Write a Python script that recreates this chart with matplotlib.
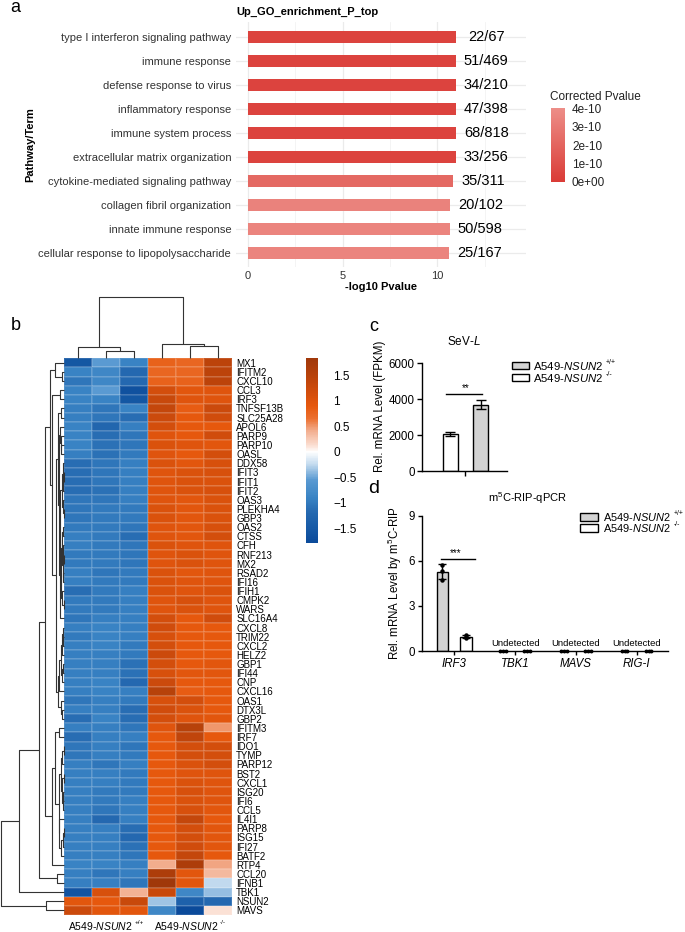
import numpy as np
import matplotlib
matplotlib.use('Agg')
import matplotlib.pyplot as plt
from matplotlib.colors import LinearSegmentedColormap, Normalize
from matplotlib.patches import Rectangle
from matplotlib.cm import ScalarMappable
from matplotlib.ticker import FuncFormatter

plt.rcParams['font.family'] = ['Liberation Sans', 'DejaVu Sans']
plt.rcParams['mathtext.fontset'] = 'custom'
plt.rcParams['mathtext.rm'] = 'Liberation Sans'
plt.rcParams['mathtext.it'] = 'Liberation Sans:italic'
plt.rcParams['mathtext.bf'] = 'Liberation Sans:bold'

# ---------------- data: panel a ----------------
go_terms = ['type I interferon signaling pathway', 'immune response', 'defense response to virus',
            'inflammatory response', 'immune system process', 'extracellular matrix organization',
            'cytokine-mediated signaling pathway', 'collagen fibril organization',
            'innate immune response', 'cellular response to lipopolysaccharide']
go_log10p = [10.99, 10.99, 10.99, 10.99, 10.99, 10.99, 10.81, 10.69, 10.65, 10.62]
go_padj = [0.4e-10, 0.4e-10, 0.4e-10, 0.4e-10, 0.4e-10, 0.4e-10, 2.2e-10, 3.4e-10, 3.5e-10, 3.5e-10]
go_counts = ['22/67', '51/469', '34/210', '47/398', '68/818', '33/256', '35/311', '20/102', '50/598', '25/167']
go_cbar_ticks = [0, 1e-10, 2e-10, 3e-10, 4e-10]
go_cbar_labels = ['0e+00', '1e-10', '2e-10', '3e-10', '4e-10']

# ---------------- data: panel b ----------------
heat_genes = ['MX1', 'IFITM2', 'CXCL10', 'CCL3', 'IRF3', 'TNFSF13B', 'SLC25A28', 'APOL6', 'PARP9', 'PARP10',
              'OASL', 'DDX58', 'IFIT3', 'IFIT1', 'IFIT2', 'OAS3', 'PLEKHA4', 'GBP3', 'OAS2', 'CTSS', 'CFH',
              'RNF213', 'MX2', 'RSAD2', 'IFI16', 'IFIH1', 'CMPK2', 'WARS', 'SLC16A4', 'CXCL8', 'TRIM22',
              'CXCL2', 'HELZ2', 'GBP1', 'IFI44', 'CNP', 'CXCL16', 'OAS1', 'DTX3L', 'GBP2', 'IFITM3', 'IRF7',
              'IDO1', 'TYMP', 'PARP12', 'BST2', 'CXCL1', 'ISG20', 'IFI6', 'CCL5', 'IL4I1', 'PARP8', 'ISG15',
              'IFI27', 'BATF2', 'RTP4', 'CCL20', 'IFNB1', 'TBK1', 'NSUN2', 'MAVS']
heat_values = [
    [-1.55, -0.55, -0.9, 0.8, 0.75, 1.45],
    [-0.9, -0.85, -1.2, 0.75, 0.75, 1.45],
    [-1.05, -0.85, -1.2, 0.8, 0.8, 1.45],
    [-0.9, -0.55, -1.65, 1.15, 0.95, 1.0],
    [-0.9, -0.9, -1.55, 1.3, 1.0, 1.0],
    [-0.95, -1.05, -0.9, 1.35, 0.85, 1.25],
    [-0.95, -1.05, -1.15, 1.25, 0.9, 1.2],
    [-0.9, -1.25, -0.95, 1.15, 0.9, 0.9],
    [-0.9, -1.15, -1.05, 1.0, 0.9, 1.2],
    [-0.9, -1.1, -1.05, 1.05, 1.0, 0.95],
    [-0.95, -1.1, -1.0, 1.0, 0.9, 1.15],
    [-1.15, -1.05, -0.95, 1.05, 0.95, 1.1],
    [-1.15, -1.05, -0.95, 1.0, 1.05, 1.1],
    [-1.15, -1.05, -0.95, 1.0, 1.05, 1.05],
    [-1.15, -1.1, -0.95, 1.0, 1.05, 1.1],
    [-1.05, -1.05, -0.95, 1.0, 0.95, 1.05],
    [-1.05, -1.0, -1.0, 1.05, 0.95, 1.05],
    [-1.05, -1.0, -1.0, 1.05, 0.95, 1.05],
    [-1.0, -1.0, -1.05, 1.0, 0.95, 1.1],
    [-0.95, -1.0, -1.15, 1.0, 0.95, 1.15],
    [-0.95, -1.0, -1.05, 1.05, 1.0, 1.0],
    [-1.0, -1.0, -1.05, 1.0, 1.05, 1.0],
    [-1.0, -1.0, -1.05, 1.0, 1.05, 1.0],
    [-0.95, -1.05, -1.0, 1.05, 0.95, 1.0],
    [-0.95, -1.0, -1.0, 1.05, 1.0, 1.0],
    [-1.15, -1.0, -0.95, 1.05, 1.0, 1.05],
    [-1.0, -1.0, -0.95, 1.0, 1.1, 1.0],
    [-1.0, -1.0, -0.95, 1.0, 1.05, 1.0],
    [-1.05, -0.95, -0.95, 1.15, 0.9, 1.2],
    [-0.95, -0.9, -0.95, 1.2, 0.9, 0.9],
    [-1.0, -0.9, -0.95, 1.1, 0.9, 0.9],
    [-0.95, -0.9, -1.0, 1.15, 0.9, 0.9],
    [-0.95, -0.95, -1.0, 1.25, 0.9, 0.9],
    [-0.95, -0.95, -1.1, 1.15, 0.9, 0.95],
    [-0.95, -0.95, -1.1, 1.1, 0.95, 0.95],
    [-0.95, -0.9, -1.2, 1.25, 0.9, 0.9],
    [-0.95, -0.9, -0.95, 1.5, 0.85, 0.9],
    [-1.05, -0.95, -1.0, 1.1, 1.15, 0.9],
    [-0.95, -0.95, -1.15, 1.2, 1.05, 0.9],
    [-1.15, -0.9, -1.15, 1.15, 1.0, 0.95],
    [-0.95, -0.95, -1.05, 1.0, 1.5, 0.5],
    [-1.15, -0.95, -0.95, 0.9, 1.4, 0.9],
    [-1.05, -0.95, -1.05, 0.9, 1.15, 1.15],
    [-1.05, -0.95, -1.0, 0.9, 1.15, 1.15],
    [-0.95, -1.05, -0.95, 0.9, 1.05, 1.15],
    [-0.95, -0.95, -1.0, 0.9, 1.0, 1.0],
    [-0.95, -0.95, -1.0, 0.9, 1.05, 1.0],
    [-0.95, -1.0, -1.0, 0.9, 1.1, 1.0],
    [-0.95, -1.0, -0.95, 0.9, 1.05, 1.0],
    [-0.95, -1.05, -0.95, 0.9, 1.1, 0.95],
    [-0.95, -1.2, -0.95, 0.9, 1.35, 0.9],
    [-0.95, -0.95, -1.15, 0.9, 1.15, 0.95],
    [-0.95, -0.95, -1.2, 0.9, 1.15, 0.95],
    [-0.95, -0.95, -1.1, 0.9, 1.2, 0.95],
    [-0.95, -0.95, -1.05, 0.9, 1.35, 0.9],
    [-0.9, -0.9, -0.95, 0.42, 1.65, 0.45],
    [-0.95, -1.05, -0.95, 1.65, 0.95, 0.35],
    [-0.95, -0.95, -1.05, 1.84, 0.95, -0.25],
    [-1.6, 1.1, 0.38, 1.3, -0.85, -0.38],
    [0.95, 0.9, 1.3, -0.35, -1.35, -1.2],
    [1.25, 0.95, 0.95, -0.85, -1.79, 0.12],
]
heat_cbar_ticks = [-1.5, -1.0, -0.5, 0.0, 0.5, 1.0, 1.5]
heat_nodes = [-1.79, -1.5, -1.2, -0.9, -0.55, -0.25, 0.0, 0.12, 0.42, 0.65, 0.9, 1.2, 1.5, 1.84]
heat_colors = ['#0B4A9A', '#175AA6', '#2468B0', '#3A84C4', '#5A9AD2', '#C2DAEE', '#FFFFFF',
               '#FBE0D4', '#F2AC8C', '#EC7030', '#E6580D', '#D04C0C', '#B8420A', '#A0380A']

# ---------------- data: panel c ----------------
sev_groups = ['-/-', '+/+']
sev_mean = [2060, 3700]
sev_sd = [110, 250]

# ---------------- data: panel d ----------------
rip_genes = ['IRF3', 'TBK1', 'MAVS', 'RIG-I']
rip_wt_points = [[5.75, 5.3, 4.75], [0, 0, 0], [0, 0, 0], [0, 0, 0]]
rip_ko_points = [[1.05, 0.92, 0.85], [0, 0, 0], [0, 0, 0], [0, 0, 0]]

# ---------------- figure helpers ----------------
W, H = 685, 932
fig = plt.figure(figsize=(W / 100, H / 100), dpi=100)
fig.patch.set_facecolor('white')
renderer = fig.canvas.get_renderer()


def add_ax(x0, y0, x1, y1):
    return fig.add_axes([x0 / W, 1 - y1 / H, (x1 - x0) / W, (y1 - y0) / H])


def fx(x):
    return x / W


def fy(y):
    return 1 - y / H


def ftext(x, y, s, **kw):
    kw.setdefault('ha', 'center')
    kw.setdefault('va', 'center')
    return fig.text(fx(x), fy(y), s, **kw)


def frect(x0, y0, x1, y1, fc):
    fig.patches.append(Rectangle((fx(x0), fy(y1)), (x1 - x0) / W, (y1 - y0) / H,
                                 transform=fig.transFigure, facecolor=fc,
                                 edgecolor='black', linewidth=1.0))


def sup_label(x, y, base, sup, fs, align='left', gap=1.5):
    t1 = ftext(x, y, base, ha='left', fontsize=fs)
    w1 = t1.get_window_extent(renderer).width
    t2 = ftext(x + w1 + gap, y - fs * 0.42, sup, ha='left', fontsize=fs * 0.62)
    w2 = t2.get_window_extent(renderer).width
    if align == 'center':
        shift = (w1 + gap + w2) / 2
        t1.set_x(fx(x - shift))
        t2.set_x(fx(x - shift + w1 + gap))


# ================= panel a =================
cmap_a = LinearSegmentedColormap.from_list('go', ['#DA3B36', '#ED8E88'])
norm_a = Normalize(0, 4e-10)
axa = add_ax(236, 22.3, 526.4, 267.1)
ya = np.arange(len(go_terms))
axa.barh(ya, go_log10p, height=0.5, color=cmap_a(norm_a(np.array(go_padj))), zorder=3)
for yi, v, c in zip(ya, go_log10p, go_counts):
    axa.text(v + 1.6, yi, c, ha='center', va='center', fontsize=10.5, color='black', zorder=4)
axa.set_xlim(-0.64, 14.71)
axa.set_ylim(len(go_terms) - 0.4, -0.6)
axa.set_xticks([0, 5, 10])
axa.set_xticks([2.5, 7.5, 12.5], minor=True)
axa.set_yticks(ya)
axa.set_yticklabels(go_terms)
axa.grid(which='major', color='#EBEBEB', linewidth=0.9, zorder=0)
axa.grid(which='minor', axis='x', color='#F3F3F3', linewidth=0.6, zorder=0)
axa.set_axisbelow(True)
for s in axa.spines.values():
    s.set_visible(False)
axa.tick_params(which='both', length=0)
axa.tick_params(axis='y', pad=3.5, labelsize=8, labelcolor='#333333')
axa.tick_params(axis='x', pad=3, labelsize=8, labelcolor='#333333')
ftext(307, 11.7, 'Up_GO_enrichment_P_top', fontsize=8, weight='bold')
ftext(30.6, 145, 'Pathway/Term', rotation=90, fontsize=8, weight='bold')
ftext(381, 286.7, '-log10 Pvalue', fontsize=8, weight='bold')
ftext(15, 7, 'a', fontsize=13)

caxa = add_ax(550.5, 108, 565, 182)
cba = fig.colorbar(ScalarMappable(norm=norm_a, cmap=cmap_a), cax=caxa)
cba.outline.set_visible(False)
cba.set_ticks(go_cbar_ticks)
cba.set_ticklabels(go_cbar_labels)
caxa.tick_params(length=0, pad=5, labelsize=8.5, labelcolor='#222222')
ftext(550, 97, 'Corrected Pvalue', ha='left', fontsize=8.5, color='#222222')


# ================= panel b =================
def constrained_tree(X):
    X = np.asarray(X)
    n = len(X)
    D = np.sqrt(((X[:, None, :] - X[None, :, :]) ** 2).sum(-1))
    clusters = [dict(m=[i], pos=i + 0.5, h=0.0) for i in range(n)]
    segs = []
    while len(clusters) > 1:
        ds = [D[np.ix_(clusters[k]['m'], clusters[k + 1]['m'])].max() for k in range(len(clusters) - 1)]
        k = int(np.argmin(ds))
        a, b = clusters[k], clusters[k + 1]
        h = max(ds[k], a['h'], b['h'])
        segs.append(([a['h'], h, h, b['h']], [a['pos'], a['pos'], b['pos'], b['pos']]))
        clusters[k:k + 2] = [dict(m=a['m'] + b['m'], pos=(a['pos'] + b['pos']) / 2, h=h)]
    return segs, clusters[0]['h']


hv = np.array(heat_values)
vmin, vmax = hv.min(), hv.max()
cmap_b = LinearSegmentedColormap.from_list(
    'hb', [((v - vmin) / (vmax - vmin), c) for v, c in zip(heat_nodes, heat_colors)])
norm_b = Normalize(vmin, vmax)

axh = add_ax(64.3, 358.3, 232, 915)
axh.pcolormesh(np.arange(hv.shape[1] + 1), np.arange(hv.shape[0] + 1), hv, cmap=cmap_b, norm=norm_b,
               edgecolors=(1, 1, 1, 0.12), linewidth=0.3)
axh.set_xlim(0, hv.shape[1])
axh.set_ylim(hv.shape[0], 0)
axh.set_xticks([])
axh.yaxis.tick_right()
axh.set_yticks(np.arange(hv.shape[0]) + 0.5)
axh.set_yticklabels(heat_genes)
axh.tick_params(axis='y', length=0, pad=3, labelsize=7)
for s in axh.spines.values():
    s.set_visible(False)

# row dendrogram
row_segs, row_root = constrained_tree(hv)
axr = add_ax(0.5, 358.3, 64.3, 915)
for hs, ps in row_segs:
    axr.plot(hs, ps, color='#333333', linewidth=0.8, clip_on=False, solid_capstyle='butt')
axr.set_xlim(row_root, 0)
axr.set_ylim(hv.shape[0], 0)
axr.axis('off')

# column dendrogram
col_segs, col_root = constrained_tree(hv.T)
axcd = add_ax(64.3, 297, 232, 358.3)
for hs, ps in col_segs:
    axcd.plot(ps, hs, color='#333333', linewidth=0.8, clip_on=False, solid_capstyle='butt')
axcd.set_ylim(0, col_root)
axcd.set_xlim(0, hv.shape[1])
axcd.axis('off')

# heatmap colorbar
caxb = add_ax(306, 358, 318, 543)
cbb = fig.colorbar(ScalarMappable(norm=norm_b, cmap=cmap_b), cax=caxb)
cbb.outline.set_visible(False)
cbb.set_ticks(heat_cbar_ticks)
cbb.ax.yaxis.set_major_formatter(FuncFormatter(lambda v, p: ('%g' % v).replace('-', '\u2212')))
caxb.tick_params(length=0, pad=11, labelsize=8.5)

sup_label(106, 926, r'A549-$\mathit{NSUN2}$', '+/+', 7.5, align='center')
sup_label(190, 926, r'A549-$\mathit{NSUN2}$', '-/-', 7.5, align='center')
ftext(16, 325, 'b', fontsize=13)

# ================= panel c =================
axc = add_ax(422.3, 363.3, 507.3, 471)
xc = np.arange(len(sev_groups))
axc.bar(xc, sev_mean, width=0.5, color=['white', '#D3D3D3'], edgecolor='black', linewidth=1.0, zorder=2)
axc.errorbar(xc, sev_mean, yerr=sev_sd, fmt='none', ecolor='black', elinewidth=1.0,
             capsize=3.5, capthick=1.0, zorder=3)
axc.set_xlim(-0.92, 1.88)
axc.set_ylim(0, 6000)
axc.set_yticks([0, 2000, 4000, 6000])
axc.set_xticks([xc.mean()])
axc.set_xticklabels([''])
for s in ['top', 'right']:
    axc.spines[s].set_visible(False)
for s in ['left', 'bottom']:
    axc.spines[s].set_linewidth(1.0)
axc.tick_params(length=3.5, width=1.0, labelsize=8.3, pad=2)
sig_c = max(m + s for m, s in zip(sev_mean, sev_sd)) + 330
axc.plot([xc[0] - 0.14, xc[1] + 0.04], [sig_c, sig_c], color='black', linewidth=1.0)
axc.text(xc.mean(), sig_c + 60, '**', ha='center', va='bottom', fontsize=7)
ftext(464, 341.7, r'SeV-$\mathit{L}$', fontsize=8.5)
ftext(380, 406, 'Rel. mRNA Level (FPKM)', rotation=90, fontsize=8.3)
ftext(374, 326.7, 'c', fontsize=13)
frect(511.7, 362.3, 529.3, 369, '#D3D3D3')
frect(511.7, 374, 529.3, 381, 'white')
sup_label(533.3, 365.9, r'A549-$\mathit{NSUN2}$', '+/+', 8.2, gap=2.5)
sup_label(533.3, 377.6, r'A549-$\mathit{NSUN2}$', '-/-', 8.2, gap=2.5)

# ================= panel d =================
axd = add_ax(422.3, 515.7, 667.7, 651)
xd = np.arange(len(rip_genes))
wt_mean = np.array([np.mean(p) for p in rip_wt_points])
ko_mean = np.array([np.mean(p) for p in rip_ko_points])
wt_sd = np.array([np.std(p, ddof=1) for p in rip_wt_points])
ko_sd = np.array([np.std(p, ddof=1) for p in rip_ko_points])
off, bw = 0.197, 0.19
det = wt_mean + ko_mean > 0
axd.bar(xd[det] - off, wt_mean[det], width=bw, color='#D3D3D3', edgecolor='black', linewidth=1.0, zorder=2)
axd.bar(xd[det] + off, ko_mean[det], width=bw, color='white', edgecolor='black', linewidth=1.0, zorder=2)
axd.errorbar(xd[det] - off, wt_mean[det], yerr=wt_sd[det], fmt='none', ecolor='black',
             elinewidth=1.0, capsize=3, capthick=1.0, zorder=3)
axd.errorbar(xd[det] + off, ko_mean[det], yerr=ko_sd[det], fmt='none', ecolor='black',
             elinewidth=1.0, capsize=3, capthick=1.0, zorder=3)
jit = np.array([-0.045, 0.0, 0.045])
for i in range(len(rip_genes)):
    if det[i]:
        axd.plot(np.full(3, xd[i] - off), rip_wt_points[i], 'o', color='black', markersize=2.2, zorder=4)
        axd.plot(np.full(3, xd[i] + off), rip_ko_points[i], 'o', color='black', markersize=2.2, zorder=4)
    else:
        axd.plot(xd[i] - off + jit, rip_wt_points[i], 'o', color='black', markersize=1.8, zorder=4, clip_on=False)
        axd.plot(xd[i] + off + jit, rip_ko_points[i], 'o', color='black', markersize=1.8, zorder=4, clip_on=False)
        axd.text(xd[i], 0.51, 'Undetected', ha='center', va='center', fontsize=6.8)
axd.set_xlim(-0.526, 3.51)
axd.set_ylim(0, 9)
axd.set_yticks([0, 3, 6, 9])
axd.set_xticks(xd)
axd.set_xticklabels(rip_genes, style='italic')
for s in ['top', 'right']:
    axd.spines[s].set_visible(False)
for s in ['left', 'bottom']:
    axd.spines[s].set_linewidth(1.0)
axd.tick_params(length=3, width=1.0, labelsize=8.3, pad=2)
sig_d = wt_mean[0] + wt_sd[0] + 0.35
axd.plot([xd[0] - off - 0.02, xd[0] + off + 0.14], [sig_d, sig_d], color='black', linewidth=1.0)
axd.text(xd[0] + 0.02, sig_d + 0.08, '***', ha='center', va='bottom', fontsize=7)
ftext(528, 498, r'm$^5$C-RIP-qPCR', fontsize=8)
ftext(395, 583, r'Rel. mRNA Level by m$^5$C-RIP', rotation=90, fontsize=8.3)
ftext(374, 488, 'd', fontsize=14)
frect(580, 513.3, 597.7, 520.7, '#D3D3D3')
frect(580, 524, 597.7, 531.7, 'white')
sup_label(603.3, 517.2, r'A549-$\mathit{NSUN2}$', '+/+', 7.9, gap=2.5)
sup_label(603.3, 528.1, r'A549-$\mathit{NSUN2}$', '-/-', 7.9, gap=2.5)

fig.savefig('out.png', dpi=100, facecolor='white')
